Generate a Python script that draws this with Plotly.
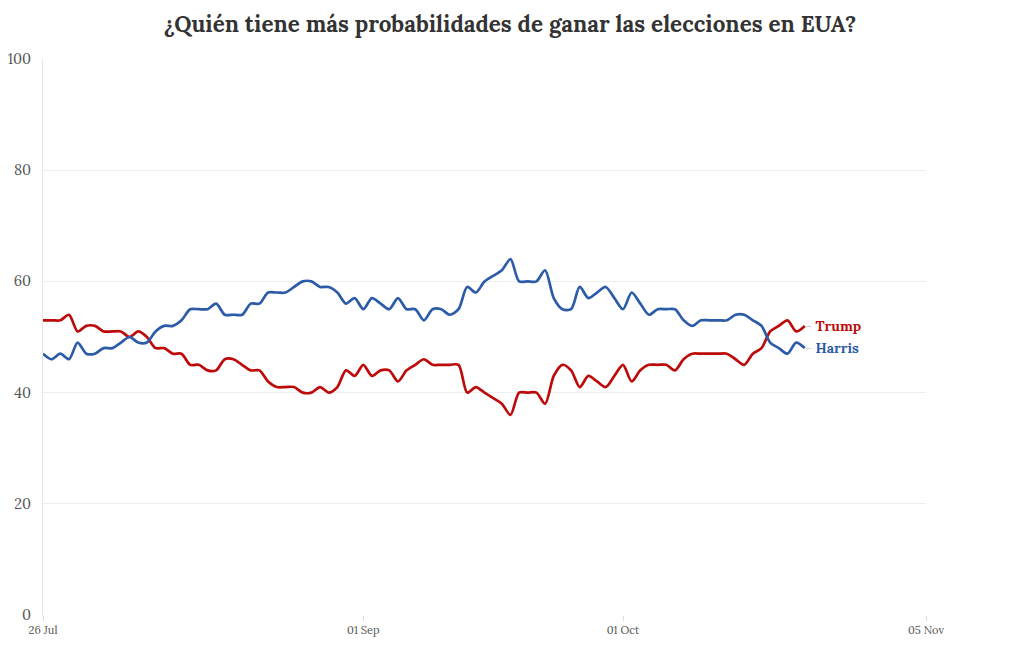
import pandas as pd
import plotly.graph_objects as go

start_date = "2024-07-26"
trump = [53, 53, 53, 54, 51, 52, 52, 51, 51, 51, 50, 51, 50, 48, 48, 47, 47, 45, 45, 44,
         44, 46, 46, 45, 44, 44, 42, 41, 41, 41, 40, 40, 41, 40, 41, 44, 43, 45, 43, 44,
         44, 42, 44, 45, 46, 45, 45, 45, 45, 40, 41, 40, 39, 38, 36, 40, 40, 40, 38, 43,
         45, 44, 41, 43, 42, 41, 43, 45, 42, 44, 45, 45, 45, 44, 46, 47, 47, 47, 47, 47,
         46, 45, 47, 48, 51, 52, 53, 51, 52]
harris = [47, 46, 47, 46, 49, 47, 47, 48, 48, 49, 50, 49, 49, 51, 52, 52, 53, 55, 55, 55,
          56, 54, 54, 54, 56, 56, 58, 58, 58, 59, 60, 60, 59, 59, 58, 56, 57, 55, 57, 56,
          55, 57, 55, 55, 53, 55, 55, 54, 55, 59, 58, 60, 61, 62, 64, 60, 60, 60, 62, 57,
          55, 55, 59, 57, 58, 59, 57, 55, 58, 56, 54, 55, 55, 55, 53, 52, 53, 53, 53, 53,
          54, 54, 53, 52, 49, 48, 47, 49, 48]
dates = pd.date_range(start_date, periods=len(trump), freq="D")

tick_vals = ["2024-07-26", "2024-09-01", "2024-10-01", "2024-11-05"]
tick_text = ["26 Jul", "01 Sep", "01 Oct", "05 Nov"]
y_ticks = [0, 20, 40, 60, 80, 100]

title = "¿Quién tiene más probabilidades de ganar las elecciones en EUA?"
RED = "#bd0a0a"
BLUE = "#2c5ba8"
FONT = "Lora, 'Liberation Serif', serif"

fig = go.Figure()
fig.add_trace(go.Scatter(x=dates, y=trump, mode="lines", name="Trump",
                         line=dict(color=RED, width=2.7, shape="spline", smoothing=0.8)))
fig.add_trace(go.Scatter(x=dates, y=harris, mode="lines", name="Harris",
                         line=dict(color=BLUE, width=2.7, shape="spline", smoothing=0.8)))

for name, vals, col in [("Trump", trump, RED), ("Harris", harris, BLUE)]:
    fig.add_annotation(x=dates[-1], y=vals[-1], xref="x", yref="y",
                       text=f"<span style='color:#cccccc'>-</span> <b>{name}</b>",
                       showarrow=False, xanchor="left", yanchor="middle", xshift=-2,
                       font=dict(family=FONT, size=14, color=col))

fig.update_layout(
    width=1004, height=634,
    paper_bgcolor="white", plot_bgcolor="white",
    margin=dict(l=35, r=86, t=51, b=27),
    showlegend=False,
    font=dict(family=FONT, color="#555555"),
    title=dict(text=f"<b>{title}</b>", x=0.5, xanchor="center", y=0.975, yanchor="middle",
               font=dict(family=FONT, size=22.4, color="#333333")),
)
fig.update_xaxes(range=["2024-07-26", "2024-11-05"], tickvals=tick_vals, ticktext=tick_text,
                 showgrid=False, ticks="outside", ticklen=5, tickcolor="#dddddd",
                 tickfont=dict(family=FONT, size=11, color="#555555"), zeroline=False,
                 showline=False, automargin=False)
fig.update_yaxes(range=[0, 100], tickvals=y_ticks, showgrid=True, gridcolor="#eeeeee",
                 gridwidth=1, zeroline=False, showline=True, linecolor="#e6e6e6",
                 tickfont=dict(family=FONT, size=14.5, color="#555555"), ticks="",
                 ticklabelstandoff=8, automargin=False)

fig.write_html("out.html")
